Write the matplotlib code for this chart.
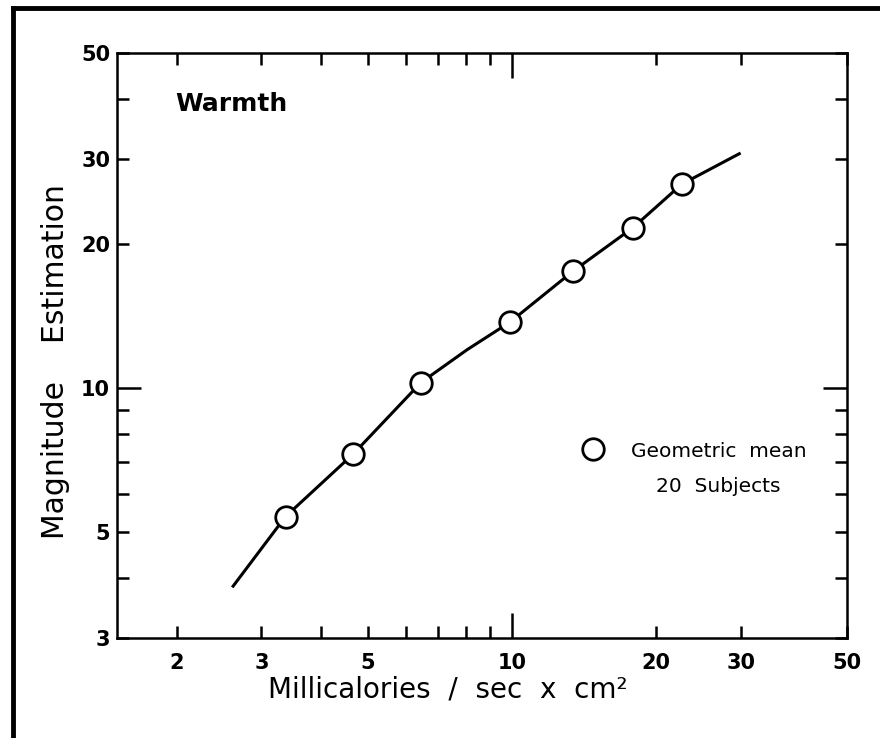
import matplotlib
matplotlib.use("Agg")
import matplotlib.pyplot as plt
from matplotlib.lines import Line2D
from matplotlib.ticker import FixedLocator, NullFormatter

# stimulus intensity (millicalories / sec x cm^2) and geometric mean estimates
intensity = [3.37, 4.66, 6.46, 9.9, 13.4, 17.9, 22.6]
magnitude = [5.38, 7.26, 10.25, 13.7, 17.5, 21.6, 26.6]

# fitted curve drawn through the points
fit_x = [2.62, 3.37, 4.66, 6.46, 8.06, 9.9, 13.4, 17.9, 22.6, 29.8]
fit_y = [3.85, 5.38, 7.26, 10.25, 12.0, 13.7, 17.5, 21.6, 26.6, 30.8]

x_major = [2, 3, 5, 10, 20, 30, 50]
x_minor = [4, 6, 7, 8, 9]
y_major = [3, 5, 10, 20, 30, 50]
y_minor = [4, 6, 7, 8, 9, 40]

fig = plt.figure(figsize=(8.8, 7.38), dpi=100)
ax = fig.add_axes([0.133, 0.1355, 0.8295, 0.7927])

ax.plot(fit_x, fit_y, color="black", lw=2.2, zorder=2)
ax.plot(intensity, magnitude, "o", ms=15.5, mfc="white", mec="black",
        mew=2.0, zorder=3)

ax.set_xscale("log")
ax.set_yscale("log")
ax.set_xlim(1.5, 50)
ax.set_ylim(3, 50)

ax.xaxis.set_major_locator(FixedLocator(x_major))
ax.xaxis.set_minor_locator(FixedLocator(x_minor))
ax.yaxis.set_major_locator(FixedLocator(y_major))
ax.yaxis.set_minor_locator(FixedLocator(y_minor))
ax.set_xticklabels([str(v) for v in x_major])
ax.set_yticklabels([str(v) for v in y_major])
ax.xaxis.set_minor_formatter(NullFormatter())
ax.yaxis.set_minor_formatter(NullFormatter())

for s in ax.spines.values():
    s.set_linewidth(1.8)

ax.tick_params(which="both", direction="in", top=True, right=True,
               length=8.6, width=1.8, labelsize=15)
ax.tick_params(axis="x", which="major", pad=11)
ax.tick_params(axis="y", which="major", pad=5)
for lab in ax.get_xticklabels() + ax.get_yticklabels():
    lab.set_fontweight("bold")

# longer tick at 10 on every side
for t in ax.xaxis.get_major_ticks():
    if t.get_loc() == 10:
        t.tick1line.set_markersize(18)
        t.tick2line.set_markersize(18)
for t in ax.yaxis.get_major_ticks():
    if t.get_loc() == 10:
        t.tick1line.set_markersize(17)
        t.tick2line.set_markersize(17)

fig.text(231 / 880, 1 - 104 / 738, "Warmth", fontsize=18, fontweight="bold",
         ha="center", va="center")

fig.text(448 / 880, 1 - 690 / 738, "Millicalories  /  sec  x  cm²",
         fontsize=20, ha="center", va="center")
fig.text(55 / 880, 1 - 362 / 738, "Magnitude    Estimation",
         fontsize=21.5, ha="center", va="center", rotation=90)

# legend key
key = Line2D([], [], ls="none", marker="o", ms=15.5, mfc="white",
             mec="black", mew=2.0)
ax.legend([key], ["Geometric  mean"], loc="center left",
          bbox_to_anchor=(0.662, 1 - 451 / 738), bbox_transform=fig.transFigure,
          frameon=False, borderpad=0, borderaxespad=0, handlelength=1.0,
          handletextpad=1.4, prop={"size": 14.5})
fig.text(718 / 880, 1 - 486 / 738, "20  Subjects", fontsize=14.5,
         ha="center", va="center")

# outer frame of the scanned figure (left and top edges)
fig.add_artist(Line2D([13 / 880, 13 / 880], [0, 1 - 8 / 738],
                      transform=fig.transFigure, color="black", lw=3.5,
                      solid_capstyle="projecting"))
fig.add_artist(Line2D([13 / 880, 1], [1 - 8 / 738, 1 - 8 / 738],
                      transform=fig.transFigure, color="black", lw=3.5,
                      solid_capstyle="projecting"))

fig.savefig("out.png", dpi=100)
